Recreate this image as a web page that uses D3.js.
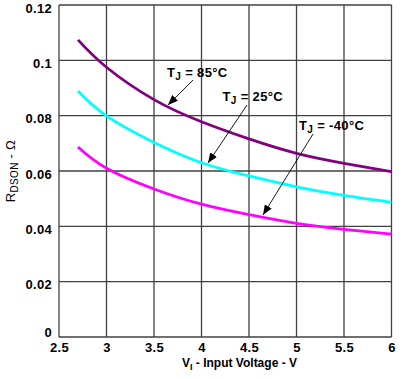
<!DOCTYPE html>
<html><head><meta charset="utf-8">
<script src="https://cdn.jsdelivr.net/npm/d3@7"></script>
<style>body{margin:0;background:#fff}svg{display:block}text{font-family:Arial,"Liberation Sans",sans-serif;font-weight:bold;fill:#000}</style>
</head><body><svg id="c" width="406" height="379"></svg>
<script>
const voltages = [2.7, 3.0, 3.5, 4.0, 4.5, 5.0, 5.5, 6.0];
const r85 = [0.1074, 0.0975, 0.0858, 0.0778, 0.0716, 0.0664, 0.0628, 0.0598];
const r25 = [0.0889, 0.0799, 0.0703, 0.0630, 0.0582, 0.0543, 0.0512, 0.0487];
const rm40 = [0.0687, 0.0610, 0.0535, 0.0480, 0.0442, 0.0411, 0.0389, 0.0372];
const xTicks = [2.5, 3, 3.5, 4, 4.5, 5, 5.5, 6];
const yTicks = [0, 0.02, 0.04, 0.06, 0.08, 0.1, 0.12];
const seriesNames = ["85°C", "25°C", "-40°C"];

const svg = d3.select("#c");
const L = 59, R = 391.5, T = 5, B = 337;
const x = d3.scaleLinear().domain([2.5, 6]).range([L, R]);
const y = d3.scaleLinear().domain([0, 0.12]).range([B, T]);

// grid
const g = svg.append("g");
g.selectAll("line.v").data(xTicks).enter().append("line")
  .attr("x1", d => x(d)).attr("x2", d => x(d)).attr("y1", T).attr("y2", B)
  .attr("stroke", "#404040").attr("stroke-width", 1.3);
g.selectAll("line.h").data(yTicks).enter().append("line")
  .attr("y1", d => y(d)).attr("y2", d => y(d)).attr("x1", L).attr("x2", R)
  .attr("stroke", "#404040").attr("stroke-width", 1.3);

// axes tick labels
const xa = svg.append("g").attr("transform", `translate(0,${B})`)
  .call(d3.axisBottom(x).tickValues(xTicks).tickFormat(d => String(d)).tickSize(0).tickPadding(6));
xa.select(".domain").remove();
xa.selectAll("text").style("font-size", "13px").style("font-family", "Arial").style("font-weight", "bold")
  .style("letter-spacing", "0.3px").attr("fill", "#000");
const ya = svg.append("g").attr("transform", `translate(${L},3)`)
  .call(d3.axisLeft(y).tickValues(yTicks).tickFormat(d => String(d)).tickSize(0).tickPadding(7));
ya.select(".domain").remove();
ya.selectAll("text").style("font-size", "13px").style("font-family", "Arial").style("font-weight", "bold")
  .style("letter-spacing", "0.3px").attr("fill", "#000")
  .attr("y", d => d === 0 ? -7.5 : 0);

// curves
const line = d3.line().x(d => x(d[0])).y(d => y(d[1])).curve(d3.curveNatural);
const series = [
  {vals: r85, color: "#800080"},
  {vals: r25, color: "#00ffff"},
  {vals: rm40, color: "#ff00ff"}
];
series.forEach(s => {
  svg.append("path").datum(voltages.map((v, i) => [v, s.vals[i]]))
    .attr("d", line).attr("fill", "none").attr("stroke", s.color).attr("stroke-width", 2.8);
});

// arrows
svg.append("defs").append("marker").attr("id", "ah").attr("viewBox", "0 0 10 10")
  .attr("refX", 10).attr("refY", 5).attr("markerWidth", 10).attr("markerHeight", 10)
  .attr("markerUnits", "userSpaceOnUse").attr("orient", "auto")
  .append("path").attr("d", "M0,1 L10,5 L0,9 Z").attr("fill", "#000");

const ann = [
  {name: seriesNames[0], tx: 167, ty: 77, ax1: 193, ay1: 80, ax2: 168, ay2: 105},
  {name: seriesNames[1], tx: 222.5, ty: 101, ax1: 247, ay1: 105, ax2: 208, ay2: 163},
  {name: seriesNames[2], tx: 299, ty: 129.5, ax1: 313, ay1: 134, ax2: 263, ay2: 215}
];
ann.forEach(a => {
  svg.append("line").attr("x1", a.ax1).attr("y1", a.ay1).attr("x2", a.ax2).attr("y2", a.ay2)
    .attr("stroke", "#000").attr("stroke-width", 0.9).attr("marker-end", "url(#ah)");
  const t = svg.append("text").attr("x", a.tx).attr("y", a.ty).style("font-size", "13px")
    .style("letter-spacing", "0.35px");
  t.append("tspan").text("T");
  t.append("tspan").attr("dy", 3).style("font-size", "10px").text("J");
  t.append("tspan").attr("dy", -3).text(" = " + a.name);
});

// axis titles
const xt = svg.append("text").attr("x", 182).attr("y", 367).attr("text-anchor", "start").style("font-size", "12px");
xt.append("tspan").text("V");
xt.append("tspan").attr("dy", 3).style("font-size", "9px").text("I");
xt.append("tspan").attr("dy", -3).text(" - Input Voltage - V");

const yt = svg.append("text").attr("transform", `translate(15,${(T + B) / 2}) rotate(-90)`)
  .attr("text-anchor", "middle").style("font-size", "13px").style("font-weight", "normal")
  .style("letter-spacing", "0.3px");
yt.append("tspan").text("R");
yt.append("tspan").attr("dy", 3).style("font-size", "10px").text("DSON");
yt.append("tspan").attr("dy", -3).text(" - Ω");
</script></body></html>
